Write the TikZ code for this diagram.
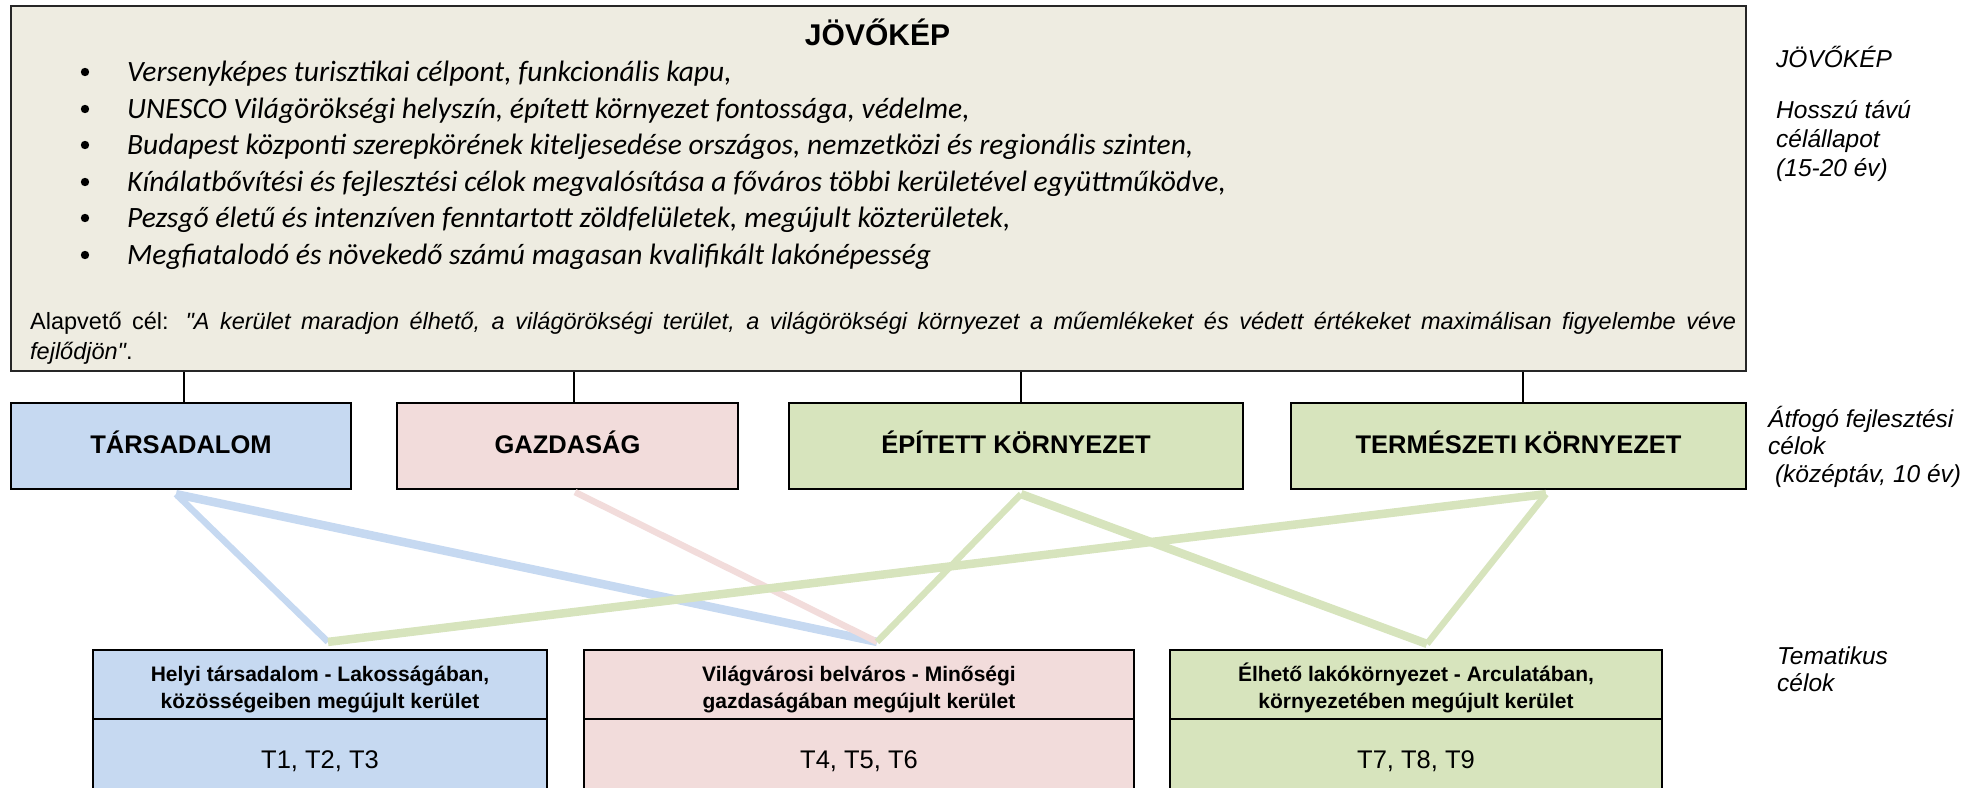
\documentclass[tikz,border=0pt]{standalone}
\usepackage{fontspec}
\setmainfont{Liberation Sans}
\newfontfamily\calibfont{Carlito}
\newfontfamily\arialnm[Ligatures=TeXOff]{Liberation Sans}
\usetikzlibrary{calc}
\definecolor{beige}{HTML}{EEECE1}
\definecolor{cblue}{HTML}{C6D9F1}
\definecolor{cpink}{HTML}{F2DCDB}
\definecolor{cgreen}{HTML}{D7E4BD}
\begin{document}
\begin{tikzpicture}[x=1pt,y=-1pt,
  topbox/.style={draw=black!85, line width=2.4pt, fill=beige, inner sep=0pt},
  goalbox/.style={draw=black, line width=2.2pt, inner sep=0pt, minimum height=86pt},
  thbox/.style={draw=black, line width=2.2pt, inner sep=0pt},
  txt/.style={inner sep=0pt},
  bullettext/.style={txt, anchor=base west, font=\calibfont\itshape\fontsize{29.5pt}{34pt}\selectfont},
  goaltext/.style={txt, anchor=base west, font=\arialnm\fontsize{23.5pt}{28pt}\selectfont},
  sidetext/.style={txt, anchor=base west, font=\itshape\fontsize{24.5pt}{29pt}\selectfont},
  boldtext/.style={txt, anchor=base, font=\bfseries\fontsize{25.5pt}{30pt}\selectfont},
  thtitle/.style={txt, anchor=base, font=\bfseries\fontsize{21pt}{26pt}\selectfont},
  thvalue/.style={txt, anchor=base, font=\fontsize{25.5pt}{30pt}\selectfont},
  conn/.style={draw=black, line width=1.3pt},
  thin/.style={line width=6.5pt},
  thick/.style={line width=8.5pt}]
\useasboundingbox (0,0) rectangle (1977,787);

% ---------- vision box ----------
\node[topbox, minimum width=1735pt, minimum height=365pt] (vision) at (878.5,188.5) {};
\node[txt, anchor=base, font=\bfseries\fontsize{30pt}{34pt}\selectfont] (vtitle) at (877.5,45) {JÖVŐKÉP};

\foreach \y in {72,109,145,182,218,255} {\fill (85,\y) circle (4.2pt);}
\node[bullettext] (l1) at (127,81) {Versenyképes turisztikai célpont, funkcionális kapu,};
\node[bullettext] (l2) at (127,118) {UNESCO Világörökségi helyszín, épített környezet fontossága, védelme,};
\node[bullettext] (l3) at (127,154) {Budapest központi szerepkörének kiteljesedése országos, nemzetközi és regionális szinten,};
\node[bullettext] (l4) at (127,191) {Kínálatbővítési és fejlesztési célok megvalósítása a főváros többi kerületével együttműködve,};
\node[bullettext] (l5) at (127,227) {Pezsgő életű és intenzíven fenntartott zöldfelületek, megújult közterületek,};
\node[bullettext] (l6) at (127,264) {Megfiatalodó és növekedő számú magasan kvalifikált lakónépesség};

\node[goaltext] (goal1) at (30,329) {\makebox[1706pt][s]{Alapvető cél: \textit{"A kerület maradjon élhető, a világörökségi terület, a világörökségi környezet a műemlékeket és védett értékeket maximálisan figyelembe véve}}};
\node[goaltext] (goal2) at (30,359) {\textit{fejlődjön"}.};

% ---------- side labels ----------
\node[sidetext] (s1) at (1776,67) {JÖVŐKÉP};
\node[sidetext] (s2) at (1776,118) {Hosszú távú};
\node[sidetext] (s3) at (1776,147) {célállapot};
\node[sidetext] (s4) at (1776,176) {(15-20 év)};
\node[sidetext] (s5) at (1768,427) {Átfogó fejlesztési};
\node[sidetext] (s6) at (1768,454) {célok};
\node[sidetext] (s7) at (1768,482) {\ (középtáv, 10 év)};
\node[sidetext] (s8) at (1777,664) {Tematikus};
\node[sidetext] (s9) at (1777,691) {célok};

% ---------- overarching goals ----------
\node[goalbox, fill=cblue, minimum width=340pt] (tars) at (181,446) {};
\node[goalbox, fill=cpink, minimum width=341pt] (gazd) at (567.5,446) {};
\node[goalbox, fill=cgreen, minimum width=454pt] (epit) at (1016,446) {};
\node[goalbox, fill=cgreen, minimum width=455pt] (term) at (1518.5,446) {};
\node[boldtext] (tarsT) at (181,453) {TÁRSADALOM};
\node[boldtext] (gazdT) at (567.5,453) {GAZDASÁG};
\node[boldtext] (epitT) at (1016,453) {ÉPÍTETT KÖRNYEZET};
\node[boldtext] (termT) at (1518.5,453) {TERMÉSZETI KÖRNYEZET};

\draw[conn] ([xshift=3pt]tars.north) -- ([xshift=3pt]tars.north |- vision.south);
\draw[conn] ([xshift=6.5pt]gazd.north) -- ([xshift=6.5pt]gazd.north |- vision.south);
\draw[conn] ([xshift=5pt]epit.north) -- ([xshift=5pt]epit.north |- vision.south);
\draw[conn] ([xshift=4.5pt]term.north) -- ([xshift=4.5pt]term.north |- vision.south);

% ---------- thematic goals ----------
\node[thbox, fill=cblue, minimum width=454pt, minimum height=69pt] (b1h) at (320,684.5) {};
\node[thbox, fill=cpink, minimum width=550pt, minimum height=69pt] (b2h) at (859,684.5) {};
\node[thbox, fill=cgreen, minimum width=492pt, minimum height=69pt] (b3h) at (1416,684.5) {};
\node[thbox, fill=cblue, minimum width=454pt, minimum height=81pt] (b1v) at (320,759.5) {};
\node[thbox, fill=cpink, minimum width=550pt, minimum height=81pt] (b2v) at (859,759.5) {};
\node[thbox, fill=cgreen, minimum width=492pt, minimum height=81pt] (b3v) at (1416,759.5) {};

\node[thtitle] (b1a) at (320,681) {Helyi társadalom - Lakosságában,};
\node[thtitle] (b1b) at (320,708) {közösségeiben megújult kerület};
\node[thtitle] (b2a) at (859,681) {Világvárosi belváros - Minőségi};
\node[thtitle] (b2b) at (859,708) {gazdaságában megújult kerület};
\node[thtitle] (b3a) at (1416,681) {Élhető lakókörnyezet - Arculatában,};
\node[thtitle] (b3b) at (1416,708) {környezetében megújult kerület};
\node[thvalue] (b1t) at (320,768) {T1, T2, T3};
\node[thvalue] (b2t) at (859,768) {T4, T5, T6};
\node[thvalue] (b3t) at (1416,768) {T7, T8, T9};

% ---------- link points ----------
\coordinate (tarsB) at ($(tars.south)+(-5,4)$);
\coordinate (gazdB) at ($(gazd.south)+(7.5,2)$);
\coordinate (epitB) at ($(epit.south)+(5,4)$);
\coordinate (termB) at ($(term.south)+(27.5,4)$);
\coordinate (b1T) at ($(b1h.north)+(8,-7)$);
\coordinate (b2T) at ($(b2h.north)+(18,-7)$);
\coordinate (b3T) at ($(b3h.north)+(11,-5)$);

\draw[cblue, thin] (tarsB) -- (b1T);
\draw[cblue, thick] (tarsB) -- (b2T);
\draw[cpink, thin] (gazdB) -- (b2T);
\draw[cgreen, thick] (b1T) -- (termB);
\draw[cgreen, thin] (epitB) -- (b2T);
\draw[cgreen, thick] (epitB) -- (b3T);
\draw[cgreen, thin] (termB) -- (b3T);
\end{tikzpicture}
\end{document}
